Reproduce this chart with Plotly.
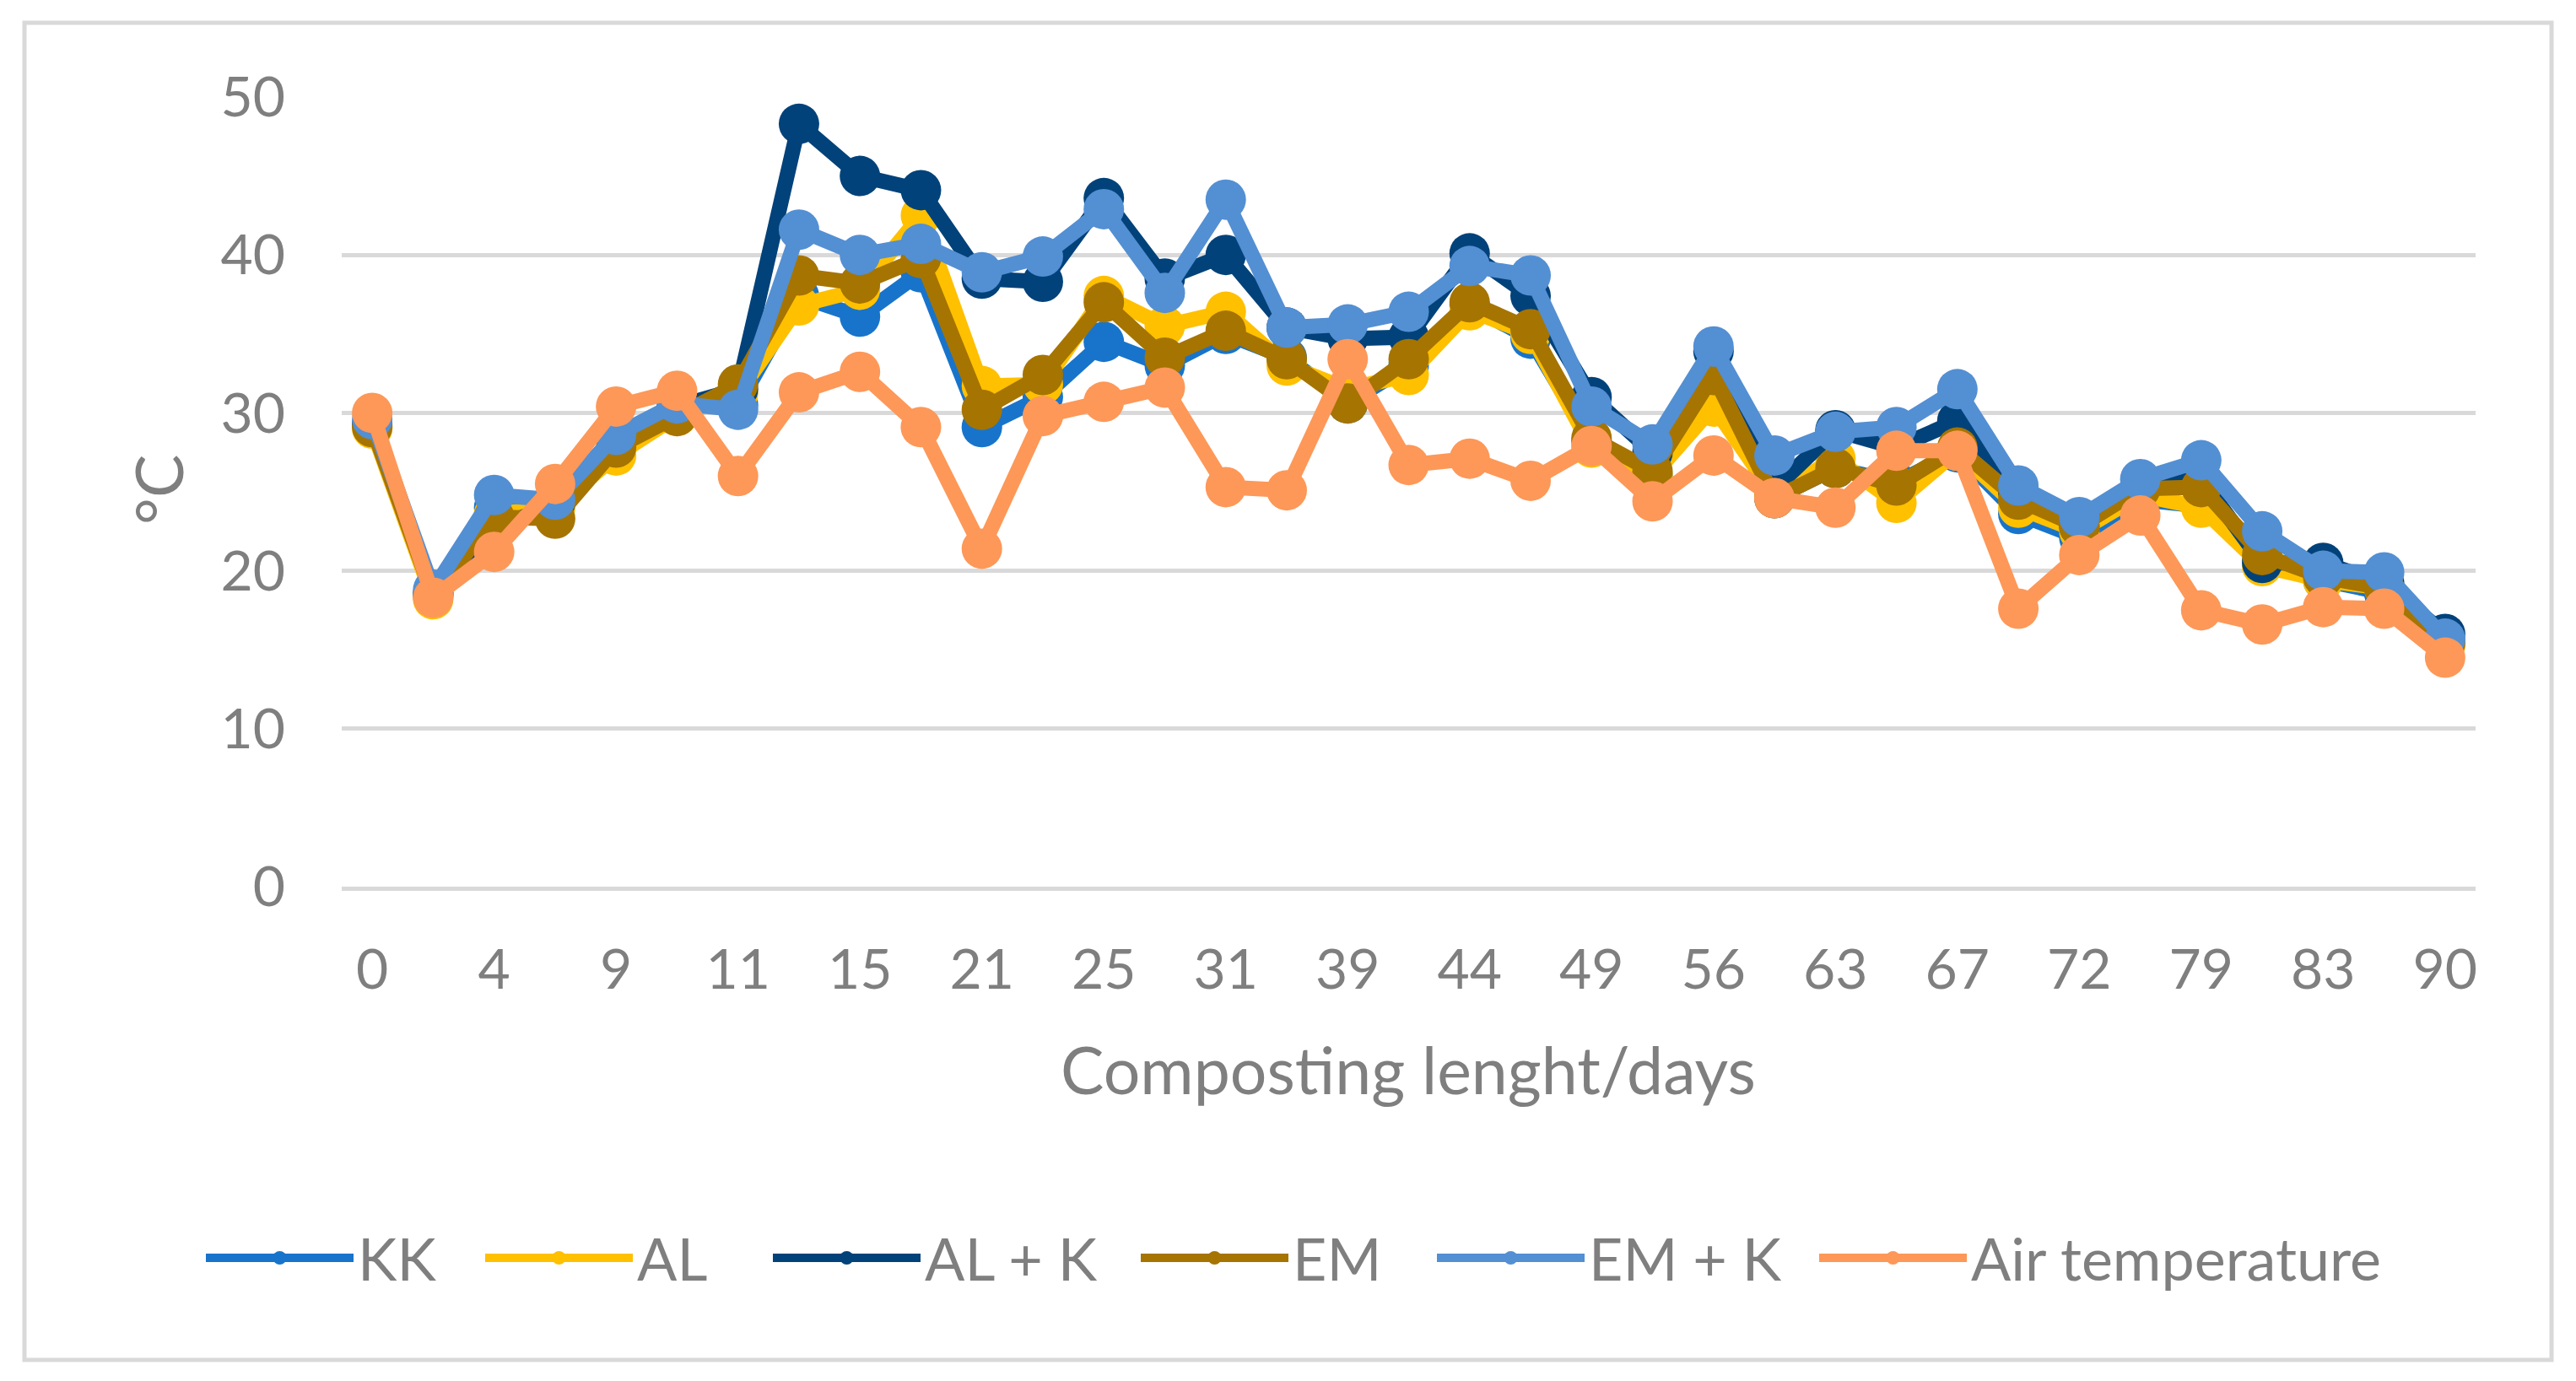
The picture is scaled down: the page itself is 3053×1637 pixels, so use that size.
import plotly.graph_objects as go

days = ["0", "2", "4", "7", "9", "10", "11", "13", "15", "18", "21", "23", "25", "28",
        "31", "35", "39", "42", "44", "46", "49", "52", "56", "59", "63", "65", "67",
        "70", "72", "76", "79", "81", "83", "86", "90"]
tick_days = days[::2]

kk = [29.2, 18.5, 24.0, 24.4, 28.5, 30.5, 30.5, 37.4, 36.1, 38.9, 29.1, 31.0, 34.5, 33.0,
      35.0, 33.5, 30.6, 33.0, 36.8, 34.7, 28.2, 26.0, 32.5, 24.6, 26.5, 25.6, 27.5,
      23.6, 22.1, 24.5, 24.1, 20.6, 19.4, 18.6, 15.5]
al = [29.0, 18.2, 23.6, 24.0, 27.3, 29.8, 31.2, 36.8, 37.8, 42.5, 31.7, 31.8, 37.4, 35.5,
      36.4, 33.0, 31.5, 32.4, 36.5, 35.0, 27.8, 26.0, 30.4, 24.8, 27.1, 24.3, 27.6,
      24.0, 22.5, 24.8, 24.0, 20.3, 19.4, 18.9, 15.3]
al_k = [29.3, 18.6, 22.6, 24.3, 28.4, 30.4, 31.5, 48.3, 45.0, 44.1, 38.5, 38.3, 43.6, 38.5,
        40.0, 35.4, 34.7, 34.8, 40.1, 37.4, 31.0, 27.5, 33.9, 25.2, 28.9, 27.8, 29.5,
        25.0, 22.8, 25.3, 25.8, 20.5, 20.5, 19.2, 16.0]
em = [29.1, 18.4, 23.4, 23.3, 27.8, 29.8, 31.8, 38.7, 38.2, 39.8, 30.2, 32.4, 37.0, 33.5,
      35.2, 33.4, 30.6, 33.4, 37.0, 35.3, 28.4, 26.3, 32.4, 24.6, 26.5, 25.4, 27.8,
      24.5, 22.8, 25.2, 25.3, 21.0, 19.6, 18.9, 15.4]
em_k = [29.6, 18.8, 24.8, 24.5, 28.6, 30.6, 30.2, 41.6, 40.0, 40.7, 38.9, 39.9, 42.9, 37.6,
        43.5, 35.4, 35.6, 36.4, 39.3, 38.7, 30.4, 28.0, 34.2, 27.3, 28.8, 29.1, 31.5,
        25.4, 23.4, 25.8, 27.0, 22.5, 20.0, 19.9, 15.7]
air = [30.0, 18.3, 21.2, 25.5, 30.4, 31.4, 26.0, 31.3, 32.6, 29.1, 21.4, 29.8, 30.7, 31.6,
       25.3, 25.1, 33.4, 26.7, 27.1, 25.7, 27.9, 24.4, 27.3, 24.6, 24.0, 27.6, 27.6,
       17.6, 21.0, 23.5, 17.5, 16.6, 17.7, 17.6, 14.5]

series_names = ["KK", "AL", "AL + K", "EM", "EM + K", "Air temperature"]
series_values = [kk, al, al_k, em, em_k, air]
series_colors = ["#1874CB", "#FFC000", "#02427A", "#A67400", "#538FD3", "#FD9858"]

FONT = "Lato"
TXT = "#7F7F7F"
GRID = "#D9D9D9"

OFF = 8  # page body margin
W, H = 3053 - 2 * OFF, 1637 - 2 * OFF
# plot area in page pixels
PX0, PX1, PY0, PY1 = 405, 2934, 115, 1051
L, T = PX0 - OFF, PY0 - OFF
R, B = W - (PX1 - OFF), H - (PY1 - OFF)
pw, ph = PX1 - PX0, PY1 - PY0


def px_x(x):
    return (x - PX0) / pw


def px_y(y):
    return (PY1 - y) / ph


# page x where each legend entry's text starts in the reference
legend_text_x = [424, 755, 1096, 1532, 1883, 2336]
ITEMW = 175

fig = go.Figure()
legend_layouts = {}
for k, (name, vals, col) in enumerate(zip(series_names, series_values, series_colors)):
    lg = "legend" if k == 0 else f"legend{k + 1}"
    fig.add_trace(go.Scatter(
        x=days, y=vals, name=name, mode="lines+markers",
        line=dict(color=col, width=18),
        marker=dict(color=col, size=48, line=dict(width=0)),
        cliponaxis=False, legend=lg,
    ))
    legend_layouts[lg] = dict(
        orientation="h", x=px_x(legend_text_x[k] - ITEMW - 10), xanchor="left",
        y=px_y(1491), yanchor="middle",
        font=dict(family=FONT, color=TXT, size=70),
        itemwidth=ITEMW, itemsizing="trace", bgcolor="rgba(0,0,0,0)",
    )

fig.update_layout(
    width=W, height=H,
    margin=dict(l=L, r=R, t=T, b=B, pad=0),
    paper_bgcolor="white", plot_bgcolor="white",
    font=dict(family=FONT, color=TXT, size=66),
    showlegend=True,
    xaxis=dict(type="category", range=[-0.5, len(days) - 0.5],
               tickmode="array", tickvals=tick_days, ticktext=tick_days,
               showgrid=False, zeroline=False,
               showline=True, linecolor=GRID, linewidth=5,
               ticks="", ticklabelstandoff=37,
               tickfont=dict(family=FONT, color=TXT, size=66)),
    yaxis=dict(range=[0, 50], tick0=0, dtick=10, showgrid=True,
               gridcolor=GRID, gridwidth=5, zeroline=False, showline=False,
               ticks="", ticklabelstandoff=66,
               tickfont=dict(family=FONT, color=TXT, size=66)),
    annotations=[
        dict(text="Composting lenght/days", xref="paper", yref="paper",
             x=px_x(1669), y=px_y(1267), xanchor="center", yanchor="middle",
             showarrow=False, font=dict(family=FONT, color=TXT, size=77)),
        dict(text="°C", xref="paper", yref="paper",
             x=px_x(187), y=px_y(581), xanchor="center", yanchor="middle",
             textangle=-90, showarrow=False,
             font=dict(family=FONT, color=TXT, size=77)),
    ],
    shapes=[
        dict(type="rect", xref="paper", yref="paper",
             x0=px_x(29), x1=px_x(3024), y0=px_y(1612), y1=px_y(27),
             line=dict(color=GRID, width=5), fillcolor="rgba(0,0,0,0)",
             layer="below"),
    ],
    **legend_layouts,
)

fig.write_html("out.html")
